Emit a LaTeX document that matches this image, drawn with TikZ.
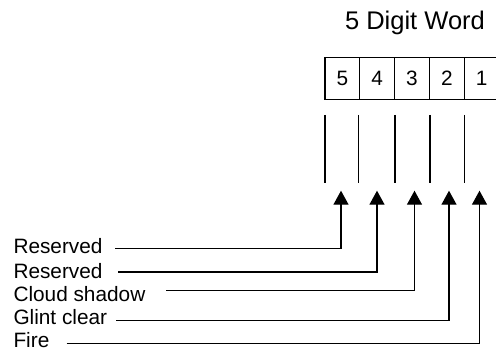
\documentclass[tikz,border=0pt]{standalone}
\usepackage{fontspec}
\setmainfont{Liberation Sans}
\usetikzlibrary{arrows.meta}
\begin{document}
\begin{tikzpicture}[x=1pt,y=1pt,
  lbl/.style={anchor=base west, inner sep=0pt, font=\fontsize{20.8}{24}\selectfont},
  cell/.style={draw, line width=1.3pt, minimum width=34.8pt, minimum height=42pt, inner sep=0pt, outer sep=0pt, font=\fontsize{20.8}{24}\selectfont},
  conn/.style={line width=1.3pt, -{Triangle[width=15pt,length=14pt]}},
  tick/.style={line width=1.3pt}]
\useasboundingbox (0,0) rectangle (496,-352);
% title
\node[anchor=base, inner sep=0pt, font=\fontsize{25.5}{30}\selectfont] (title) at (415,-30) {5 Digit Word};
% word cells
\node[cell] (c5) at (342.4,-78.3) {5};
\node[cell] (c4) at (377.2,-78.3) {4};
\node[cell] (c3) at (412.0,-78.3) {3};
\node[cell] (c2) at (446.8,-78.3) {2};
\node[cell] (c1) at (481.6,-78.3) {1};
% short vertical lines
\draw[tick] ([yshift=-15.7pt]c5.south west) -- ++(0,-68.3);
\draw[tick] ([xshift=-1.5pt,yshift=-15.7pt]c4.south west) -- ++(0,-68.3);
\draw[tick] ([xshift=0.4pt,yshift=-15.7pt]c3.south west) -- ++(0,-68.3);
\draw[tick] ([xshift=0.6pt,yshift=-15.7pt]c2.south west) -- ++(0,-68.3);
\draw[tick] ([yshift=-15.7pt]c1.south west) -- ++(0,-68.3);
% labels
\node[lbl] (l1) at (13.3,-254) {Reserved};
\node[lbl] (l2) at (13.3,-278.3) {Reserved};
\node[lbl] (l3) at (13.3,-301.7) {Cloud shadow};
\node[lbl] (l4) at (13.3,-325) {Glint clear};
\node[lbl] (l5) at (13.3,-347.5) {Fire};
% connector ends
\coordinate (s1) at (115,-248.3);
\coordinate (s2) at (118.3,-271.9);
\coordinate (s3) at (166,-290.5);
\coordinate (s4) at (116,-320.8);
\coordinate (s5) at (66.7,-343.3);
\coordinate (t1) at (341,-190.7);
\coordinate (t2) at (377,-190.7);
\coordinate (t3) at (414.5,-190.7);
\coordinate (t4) at (449,-190.7);
\coordinate (t5) at (479.5,-190.7);
% connectors
\draw[conn] (s1) -| (t1);
\draw[conn] (s2) -| (t2);
\draw[conn] (s3) -| (t3);
\draw[conn] (s4) -| (t4);
\draw[conn] (s5) -| (t5);
\end{tikzpicture}
\end{document}
